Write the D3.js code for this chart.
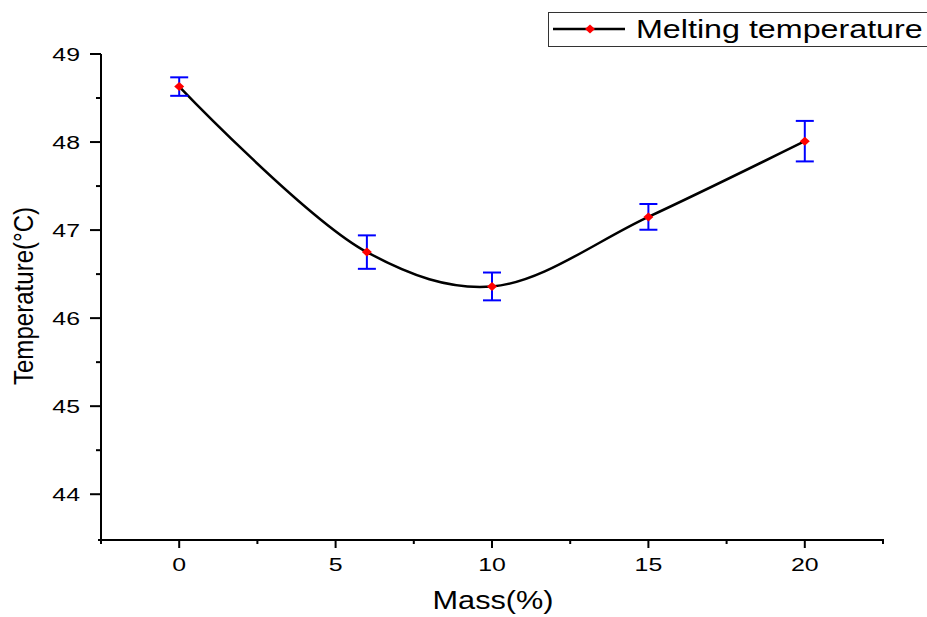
<!DOCTYPE html>
<html>
<head>
<meta charset="utf-8">
<script src="https://cdn.jsdelivr.net/npm/d3@7"></script>
<style>
  html, body { margin: 0; padding: 0; background: #fff; }
  svg { display: block; }
  text { font-family: "Liberation Sans", Arial, sans-serif; fill: #000; }
</style>
</head>
<body>
<svg id="chart" width="927" height="617"></svg>
<script>
// Mass fraction (%) and measured melting temperature with its error
const mass = [0, 6, 10, 15, 20];
const meltTemp = [48.63, 46.75, 46.36, 47.15, 48.01];
const meltErr = [0.105, 0.19, 0.158, 0.146, 0.23];
const xTicks = [0, 5, 10, 15, 20];
const yTicks = [44, 45, 46, 47, 48, 49];
const seriesName = "Melting temperature";
const xTitle = "Mass(%)";
const yTitle = "Temperature(\u00B0C)";

const svg = d3.select("#chart");

const x = d3.scaleLinear().domain([-2.5, 22.5]).range([101, 883]);
const y = d3.scaleLinear().domain([43.48, 49]).range([540, 54]);

const data = mass.map((m, i) => ({ m, t: meltTemp[i], e: meltErr[i] }));

// Horizontally stretched label helper
function label(g, px, py, str, size, sx, anchor) {
  g.append("g")
    .attr("transform", `translate(${px},${py}) scale(${sx},1)`)
    .append("text")
    .attr("text-anchor", anchor)
    .attr("font-size", size)
    .text(str);
}

// X axis
const xAxis = svg.append("g");
xAxis.append("line")
  .attr("x1", x(-2.5) - 3).attr("x2", x(22.5) + 1)
  .attr("y1", 540).attr("y2", 540)
  .attr("stroke", "#000").attr("stroke-width", 2);
d3.range(-2.5, 22.6, 2.5).forEach(v => {
  const major = Math.abs(v % 5) < 1e-9;
  xAxis.append("line")
    .attr("x1", x(v)).attr("x2", x(v))
    .attr("y1", 540).attr("y2", 540 + (major ? 8 : 4))
    .attr("stroke", "#000").attr("stroke-width", 2);
});
xTicks.forEach(v => label(xAxis, x(v), 571, String(v), 17.5, 1.42, "middle"));

// Y axis
const yAxis = svg.append("g");
yAxis.append("line")
  .attr("x1", 101).attr("x2", 101)
  .attr("y1", y(49)).attr("y2", 541)
  .attr("stroke", "#000").attr("stroke-width", 2);
d3.range(44, 49.01, 0.5).forEach(v => {
  const major = Math.abs(v % 1) < 1e-9;
  yAxis.append("line")
    .attr("x1", 101 - (major ? 11 : 5)).attr("x2", 101)
    .attr("y1", y(v)).attr("y2", y(v))
    .attr("stroke", "#000").attr("stroke-width", 2);
});
yTicks.forEach(v => label(yAxis, 80, y(v) + 6.5, String(v), 17.5, 1.42, "end"));

// Axis titles
label(svg, 493, 609, xTitle, 26, 1.18, "middle");
svg.append("g")
  .attr("transform", `translate(33,${(205 + 387) / 2}) rotate(-90) scale(0.86,1.0)`)
  .append("text")
  .attr("text-anchor", "middle")
  .attr("font-size", 28)
  .text(yTitle);

// Smooth connecting curve
const line = d3.line()
  .x(d => x(d.m))
  .y(d => y(d.t))
  .curve(d3.curveCatmullRom.alpha(0.5));
svg.append("path")
  .datum(data)
  .attr("d", line)
  .attr("fill", "none")
  .attr("stroke", "#000")
  .attr("stroke-width", 2.5);

// Error bars
const eb = svg.append("g").attr("stroke", "#0000ff").attr("stroke-width", 2);
data.forEach(d => {
  const cx = x(d.m), y1 = y(d.t + d.e), y2 = y(d.t - d.e);
  eb.append("line").attr("x1", cx).attr("x2", cx).attr("y1", y1).attr("y2", y2);
  eb.append("line").attr("x1", cx - 9).attr("x2", cx + 9).attr("y1", y1).attr("y2", y1);
  eb.append("line").attr("x1", cx - 9).attr("x2", cx + 9).attr("y1", y2).attr("y2", y2);
});

// Diamond markers
const diamond = (cx, cy) => `M${cx - 5},${cy} L${cx},${cy - 4.5} L${cx + 5},${cy} L${cx},${cy + 4.5} Z`;
svg.append("g").selectAll("path")
  .data(data).join("path")
  .attr("d", d => diamond(x(d.m), y(d.t)))
  .attr("fill", "#ff0000");

// Legend
const lg = svg.append("g");
lg.append("rect")
  .attr("x", 548.5).attr("y", 12.5).attr("width", 400).attr("height", 34)
  .attr("fill", "#fff").attr("stroke", "#333").attr("stroke-width", 1);
lg.append("line")
  .attr("x1", 553).attr("x2", 625).attr("y1", 29).attr("y2", 29)
  .attr("stroke", "#000").attr("stroke-width", 2.5);
lg.append("path").attr("d", diamond(590, 29)).attr("fill", "#ff0000");
label(lg, 636, 38, seriesName, 25, 1.29, "start");
</script>
</body>
</html>
